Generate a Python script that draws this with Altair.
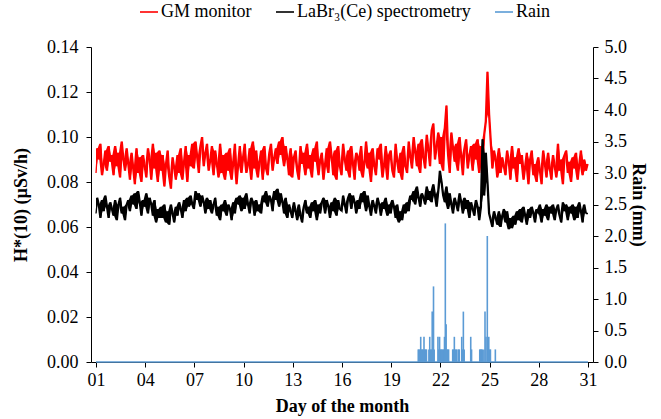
import altair as alt
import pandas as pd

# ---------------- data ----------------
day_start = 1.0
day_step = 0.1

# GM monitor, H*(10) in nSv/h, one row per day (10 readings / day)
gm_nsv = [
    84, 95, 90, 97, 83, 88, 94, 85, 96, 89,
    92, 83, 96, 87, 93, 82, 98, 90, 85, 95,
    88, 81, 93, 86, 79, 95, 84, 91, 80, 92,
    87, 82, 95, 90, 81, 97, 86, 93, 80, 94,
    85, 92, 78, 88, 94, 82, 77, 91, 86, 81,
    92, 84, 95, 81, 89, 96, 80, 92, 87, 97,
    86, 98, 91, 84, 96, 100, 87, 93, 97, 85,
    90, 96, 83, 94, 88, 82, 97, 84, 92, 81,
    93, 85, 95, 81, 89, 97, 79, 88, 96, 84,
    91, 97, 84, 88, 95, 81, 98, 86, 94, 82,
    89, 94, 81, 96, 86, 83, 93, 97, 85, 91,
    95, 88, 98, 92, 100, 87, 96, 90, 83, 95,
    82, 91, 94, 85, 81, 96, 88, 93, 83, 97,
    86, 92, 82, 95, 89, 98, 83, 90, 93, 81,
    88, 95, 84, 98, 91, 83, 94, 81, 96, 87,
    83, 97, 90, 85, 94, 82, 96, 88, 81, 93,
    91, 85, 96, 82, 89, 98, 86, 93, 80, 95,
    87, 83, 95, 90, 97, 82, 88, 96, 81, 92,
    94, 85, 82, 97, 89, 84, 93, 81, 96, 87,
    84, 98, 91, 86, 100, 93, 87, 97, 84, 99,
    91, 86, 101, 94, 87, 103, 106, 90, 96, 102,
    88, 100, 85, 104, 114, 92, 84, 102, 95, 89,
    97, 85, 100, 91, 83, 95, 99, 86, 92, 96,
    85, 97, 90, 99, 84, 96, 88, 101, 107, 129,
    110, 98, 86, 94, 90, 82, 95, 84, 91, 87,
    83, 94, 89, 81, 96, 86, 91, 80, 95, 88,
    92, 81, 87, 93, 79, 90, 94, 83, 88, 80,
    91, 85, 79, 94, 88, 82, 93, 86, 81, 92,
    87, 82, 97, 85, 90, 79, 92, 94, 84, 89,
    80, 91, 86, 93, 81, 88, 94, 83, 90, 85,
    88,
]

# LaBr3(Ce) spectrometry, H*(10) in nSv/h
labr_nsv = [
    66, 73, 70, 64, 72, 67, 74, 69, 64, 71,
    68, 65, 72, 63, 70, 73, 66, 69, 63, 70,
    72, 67, 74, 70, 75, 68, 76, 71, 65, 72,
    69, 75, 66, 73, 70, 65, 72, 62, 68, 64,
    69, 64, 70, 62, 67, 61, 70, 66, 62, 69,
    65, 71, 68, 64, 72, 67, 73, 69, 74, 70,
    68, 76, 72, 75, 69, 74, 71, 66, 73, 68,
    72, 66, 70, 73, 65, 69, 63, 70, 67, 72,
    65, 70, 68, 63, 71, 66, 73, 70, 74, 67,
    73, 68, 75, 70, 66, 73, 71, 65, 72, 67,
    70, 66, 74, 71, 76, 69, 74, 72, 67, 76,
    72, 77, 69, 75, 71, 66, 73, 64, 70, 67,
    64, 71, 67, 63, 70, 65, 62, 69, 72, 66,
    69, 64, 71, 67, 72, 63, 70, 66, 71, 73,
    66, 72, 69, 64, 71, 67, 73, 65, 72, 68,
    67, 74, 70, 66, 73, 75, 68, 74, 71, 66,
    72, 68, 75, 71, 76, 67, 74, 69, 65, 72,
    69, 66, 73, 70, 65, 71, 68, 73, 65, 70,
    66, 72, 69, 64, 70, 62, 67, 63, 70, 66,
    71, 67, 74, 72, 76, 70, 78, 73, 69, 75,
    73, 70, 78, 72, 76, 71, 79, 74, 69, 76,
    85, 80, 74, 71, 78, 68, 75, 70, 66, 73,
    70, 67, 75, 71, 66, 73, 68, 72, 64, 71,
    68, 65, 72, 69, 63, 69, 99, 74, 93, 80,
    66, 63, 60, 67, 64, 61, 67, 60, 65, 68,
    62, 67, 59, 64, 59.5, 65, 61, 67, 63, 68,
    62, 69, 65, 61, 68, 64, 69, 66, 62, 68,
    66, 70, 62, 68, 65, 70, 63, 69, 66, 70,
    63, 68, 70, 65, 62, 71, 67, 70, 63, 69,
    66, 70, 63, 69, 64, 71, 67, 62, 70, 66,
    66,
]

# Rain readings (day of month, mm)
rain_day = [
    20.65, 20.70, 20.75, 20.80, 20.85, 20.90, 20.95, 21.00, 21.05, 21.10, 21.15,
    21.30, 21.35, 21.40, 21.45, 21.50, 21.55, 21.58, 21.62,
    21.85, 21.90, 21.95, 22.00, 22.05, 22.10, 22.15, 22.20, 22.25, 22.30, 22.35, 22.40, 22.45, 22.50,
    22.75, 22.80, 22.85, 22.90, 22.95, 23.00, 23.10, 23.15,
    23.30, 23.35, 23.40, 23.45,
    23.85, 23.90,
    24.40, 24.45, 24.50, 24.55, 24.65, 24.72, 24.78, 24.86, 24.90, 24.95, 25.00, 25.05,
    25.35,
]
rain_mm = [
    0.2, 0.2, 0.2, 0.4, 0.2, 0.2, 0.2, 0.4, 0.2, 0.2, 0.2,
    0.2, 0.4, 0.2, 0.2, 0.8, 0.4, 1.2, 0.2,
    0.4, 0.2, 0.4, 0.2, 0.2, 0.2, 0.2, 0.2, 0.4, 2.2, 0.6, 0.2, 0.2, 0.2,
    0.2, 0.2, 0.4, 0.2, 0.2, 0.2, 0.2, 0.2,
    0.4, 0.2, 0.8, 0.2,
    0.4, 0.2,
    0.2, 0.2, 0.2, 0.2, 0.2, 0.8, 0.4, 2.0, 0.2, 0.4, 0.2, 0.2,
    0.2,
]
# rain series between the readings is zero over the month
rain_zero_day = [1, 31]
rain_zero_mm = [0, 0]

x_ticks = [1, 4, 7, 10, 13, 16, 19, 22, 25, 28, 31]
left_ticks = [0.0, 0.02, 0.04, 0.06, 0.08, 0.10, 0.12, 0.14]
right_ticks = [0.0, 0.5, 1.0, 1.5, 2.0, 2.5, 3.0, 3.5, 4.0, 4.5, 5.0]

series_names = ["GM monitor", "LaBr\u2083(Ce) spectrometry", "Rain"]
series_colors = ["#FF0000", "#000000", "#5B9BD5"]

# ---------------- tables ----------------
days = [round(day_start + i * day_step, 2) for i in range(len(gm_nsv))]
dose_df = pd.DataFrame({
    "day": days + days,
    "dose": [v / 1000 for v in gm_nsv] + [v / 1000 for v in labr_nsv],
    "series": [series_names[0]] * len(days) + [series_names[1]] * len(days),
})
rain_df = pd.DataFrame({"day": rain_day, "rain": rain_mm})
rain_zero_df = pd.DataFrame({"day": rain_zero_day, "rain": rain_zero_mm,
                             "series": [series_names[2]] * 2})

FONT = "Times New Roman, Liberation Serif, serif"
FS = 18

x_enc = alt.X(
    "day:Q",
    scale=alt.Scale(domain=[1, 31], nice=False, zero=False),
    axis=alt.Axis(
        values=x_ticks,
        labelExpr="datum.value < 10 ? '0' + datum.value : '' + datum.value",
        title="Day of the month",
        grid=False,
        tickSize=5,
        labelPadding=4,
        titlePadding=8,
        labelFont=FONT,
        labelFontSize=FS,
    ),
)

color_enc = alt.Color(
    "series:N",
    scale=alt.Scale(domain=series_names, range=series_colors),
    legend=alt.Legend(
        title=None,
        orient="none",
        legendX=48,
        legendY=-45,
        direction="horizontal",
        symbolType="stroke",
        symbolSize=324,
        symbolStrokeWidth=1.6,
        labelOffset=2,
        columnPadding=20,
        padding=0,
        labelFont=FONT,
        labelFontSize=FS,
        labelLimit=400,
        labelColor="#000000",
    ),
)

left_axis = alt.Axis(
    values=left_ticks,
    format=".2f",
    title="H*(10) (\u00b5Sv/h)",
    grid=False,
    tickSize=5,
    labelPadding=8,
    titlePadding=16,
    labelFont=FONT,
    labelFontSize=FS,
)
left_scale = alt.Scale(domain=[0, 0.14], nice=False)


def series_band(name, colour):
    # dense band of the noisy reading: span between neighbouring readings
    return (
        alt.Chart(dose_df)
        .transform_filter(alt.datum.series == name)
        .transform_window(
            lo="min(dose)", hi="max(dose)", frame=[0, 1], sort=[alt.SortField("day")]
        )
        .mark_area(color=colour)
        .encode(
            x=x_enc,
            y=alt.Y("lo:Q", scale=left_scale, axis=left_axis,
                    title="H*(10) (\u00b5Sv/h)"),
            y2="hi:Q",
        )
    )


def series_line(name):
    return (
        alt.Chart(dose_df)
        .transform_filter(alt.datum.series == name)
        .mark_line(strokeWidth=1.3)
        .encode(
            x=x_enc,
            y=alt.Y("dose:Q", scale=left_scale, axis=left_axis,
                    title="H*(10) (\u00b5Sv/h)"),
            color=color_enc,
        )
    )


dose_layer = alt.layer(
    series_line(series_names[0]),
    series_band(series_names[0], series_colors[0]),
    series_line(series_names[1]),
    series_band(series_names[1], series_colors[1]),
)

y_right = alt.Y(
    "rain:Q",
    scale=alt.Scale(domain=[0, 5], nice=False),
    axis=alt.Axis(
        orient="right",
        values=right_ticks,
        format=".1f",
        title="Rain (mm)",
        grid=False,
        tickSize=5,
        labelPadding=6,
        titlePadding=2,
        labelFont=FONT,
        labelFontSize=FS,
    ),
)

rain_bars = alt.Chart(rain_df).mark_bar(size=1.6, color="#5B9BD5").encode(
    x=x_enc, y=y_right
)
rain_zero = alt.Chart(rain_zero_df).mark_line(strokeWidth=1.6).encode(
    x=x_enc, y=y_right, color=color_enc
)
rain_layer = alt.layer(rain_bars, rain_zero)

chart = (
    alt.layer(dose_layer, rain_layer)
    .resolve_scale(y="independent")
    .properties(
        width=502,
        height=315,
        padding={"left": 91, "top": 47, "right": 68, "bottom": 57},
        autosize=alt.AutoSizeParams(type="none"),
    )
    .configure_view(strokeWidth=0)
    .configure_axis(
        labelFont=FONT,
        labelFontSize=FS,
        labelColor="#000000",
        titleFont=FONT,
        titleFontSize=FS,
        titleFontWeight="bold",
        titleColor="#000000",
        domainColor="#000000",
        tickColor="#000000",
        domainWidth=1,
    )
    .configure_legend(labelFont=FONT, labelFontSize=FS, labelLimit=400)
)

chart.save("out.html", embed_options={"renderer": "svg", "actions": False})
